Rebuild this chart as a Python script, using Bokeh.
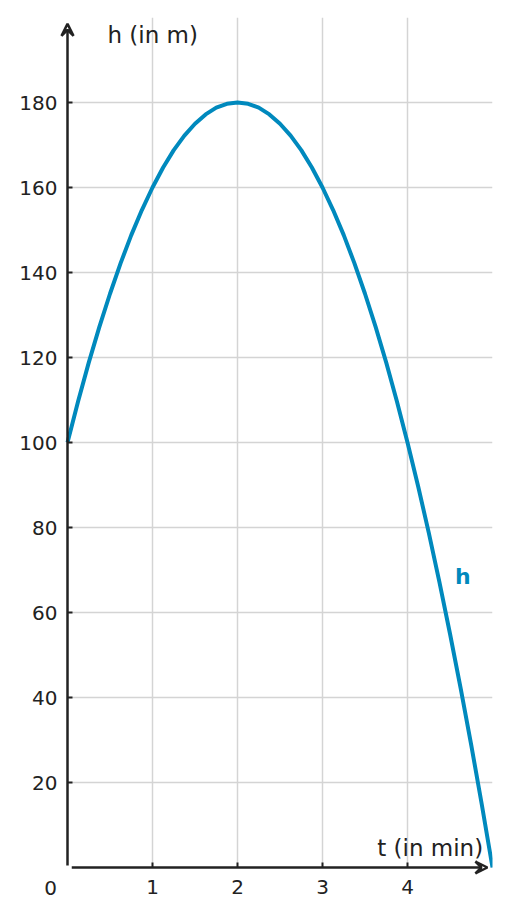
from bokeh.plotting import figure
from bokeh.models import (Arrow, VeeHead, Label, FixedTicker, Range1d, ColumnDataSource, Grid)
from bokeh.embed import file_html
from bokeh.resources import INLINE

# data
t_values = [0, 0.125, 0.25, 0.375, 0.5, 0.625, 0.75, 0.875, 1, 1.125, 1.25, 1.375,
            1.5, 1.625, 1.75, 1.875, 2, 2.125, 2.25, 2.375, 2.5, 2.625, 2.75, 2.875,
            3, 3.125, 3.25, 3.375, 3.5, 3.625, 3.75, 3.875, 4, 4.125, 4.25, 4.375,
            4.5, 4.625, 4.75, 4.875, 5]
h_values = [100, 109.7, 118.8, 127.2, 135, 142.2, 148.8, 154.7, 160, 164.7, 168.8,
            172.2, 175, 177.2, 178.8, 179.7, 180, 179.7, 178.8, 177.2, 175, 172.2,
            168.8, 164.7, 160, 154.7, 148.8, 142.2, 135, 127.2, 118.8, 109.7, 100,
            89.7, 78.8, 67.2, 55, 42.2, 28.8, 14.7, 0]
x_ticks = [1, 2, 3, 4]
y_ticks = [20, 40, 60, 80, 100, 120, 140, 160, 180]
x_title = "t (in min)"
y_title = "h (in m)"
series_name = "h"

T_MAX = 5
H_MAX = 200

FONT = "DejaVu Sans"
INK = "#222222"
BLUE = "#0089bd"
GRID = "#d4d4d4"

# frame extends a little beyond the data area so arrows / labels are not clipped
p = figure(width=502, height=910, output_backend="svg", toolbar_location=None,
           x_range=Range1d(-57 / 85, T_MAX), y_range=Range1d(-33 / 4.25, H_MAX),
           min_border_left=10, min_border_right=10, min_border_top=17,
           min_border_bottom=10)
p.outline_line_color = None
p.background_fill_color = "white"
p.border_fill_color = "white"

for ax in (p.xaxis[0], p.yaxis[0]):
    ax.fixed_location = 0
    ax.axis_line_alpha = 0
    ax.major_tick_in = 5
    ax.major_tick_out = 0
    ax.major_tick_line_color = INK
    ax.major_tick_line_width = 2
    ax.minor_tick_line_color = None
    ax.major_label_text_font = FONT
    ax.major_label_text_font_size = "20px"
    ax.major_label_text_color = INK
p.xaxis[0].ticker = FixedTicker(ticks=x_ticks)
p.yaxis[0].ticker = FixedTicker(ticks=y_ticks)
p.xaxis[0].major_label_standoff = 12
p.yaxis[0].major_label_standoff = 10

p.xgrid[0].ticker = FixedTicker(ticks=x_ticks)
p.ygrid[0].ticker = FixedTicker(ticks=y_ticks)
p.grid.grid_line_color = GRID
p.grid.grid_line_width = 1.5
if "cross_bounds" in Grid.properties():
    p.xgrid[0].cross_bounds = (0, H_MAX)
    p.ygrid[0].cross_bounds = (0, T_MAX)
else:
    p.grid.visible = False
    p.segment(x0=x_ticks, x1=x_ticks, y0=[0] * len(x_ticks), y1=[H_MAX] * len(x_ticks),
              line_color=GRID, line_width=1.5)
    p.segment(x0=[0] * len(y_ticks), x1=[T_MAX] * len(y_ticks), y0=y_ticks, y1=y_ticks,
              line_color=GRID, line_width=1.5)

src = ColumnDataSource(data=dict(t=t_values, h=h_values))
p.line("t", "h", source=src, line_color=BLUE, line_width=4, line_join="round")

# axes with arrows
p.add_layout(Arrow(x_start=0, y_start=0.5, x_end=0, y_end=198.5,
                   line_color=INK, line_width=2.5,
                   end=VeeHead(size=12, line_color=INK, line_width=2.5, fill_alpha=0)))
p.add_layout(Arrow(x_start=0.05, y_start=0, x_end=4.94, y_end=0,
                   line_color=INK, line_width=2.5,
                   end=VeeHead(size=12, line_color=INK, line_width=2.5, fill_alpha=0)))

p.add_layout(Label(x=0.47, y=195.8, text=y_title, text_font=FONT,
                   text_font_size="23px", text_color=INK,
                   text_baseline="middle", text_align="left"))
p.add_layout(Label(x=4.89, y=4.5, text=x_title, text_font=FONT,
                   text_font_size="23px", text_color=INK,
                   text_baseline="middle", text_align="right"))
p.add_layout(Label(x=-0.2, y=-4.9, text="0", text_font=FONT,
                   text_font_size="20px", text_color=INK,
                   text_baseline="middle", text_align="center"))
p.add_layout(Label(x=4.65, y=68.5, text=series_name, text_font=FONT,
                   text_font_size="22px", text_font_style="bold", text_color=BLUE,
                   text_baseline="middle", text_align="center"))

open("out.html", "w").write(file_html(p, INLINE))
